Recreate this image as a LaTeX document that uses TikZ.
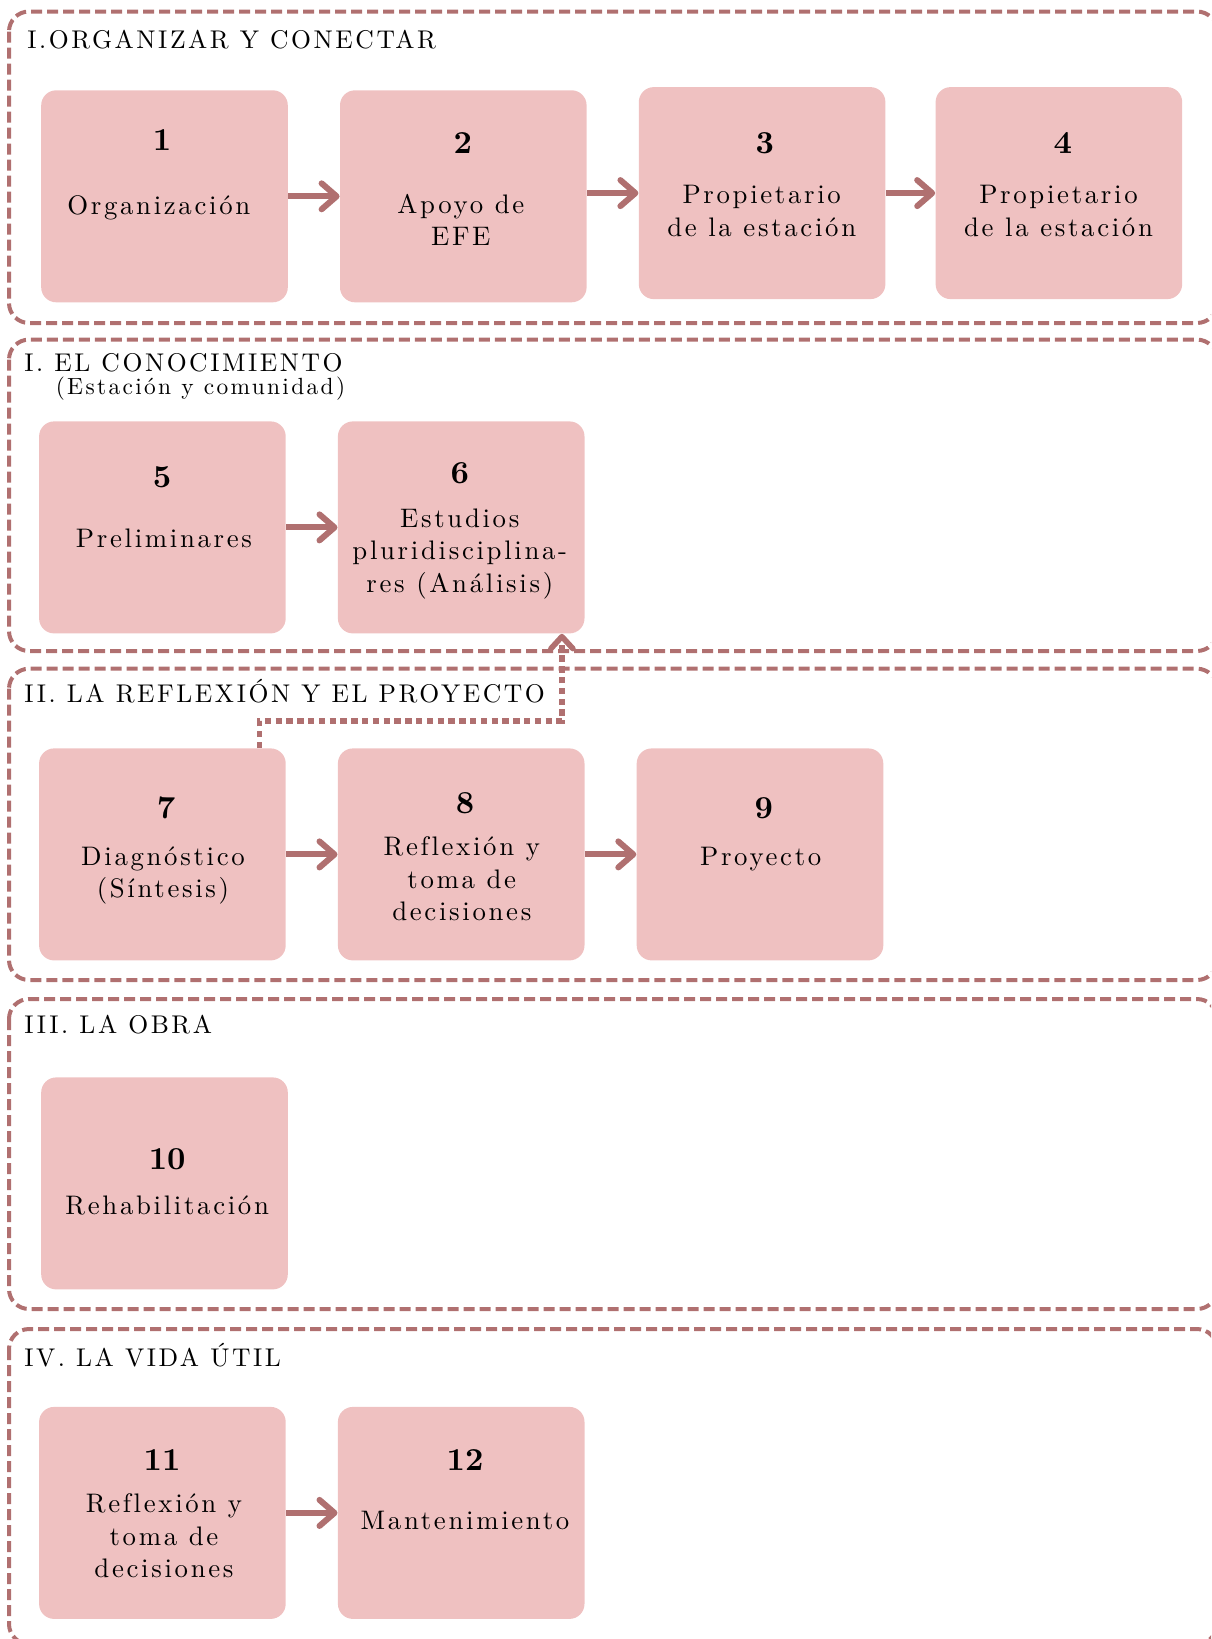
\documentclass[tikz,border=0pt]{standalone}
\usepackage{fontspec}
\usetikzlibrary{arrows.meta,calc}

% Latin Modern, loaded by file name; box and heading text is tracked out
\newfontfamily\spacedfont{lmroman10-regular.otf}[LetterSpace=10,Ligatures=NoCommon]
\newfontfamily\numfont{lmroman10-bold.otf}

\definecolor{boxfill}{RGB}{239,193,193}
\definecolor{rosy}{RGB}{176,112,112}

\tikzset{
  stage/.style={draw=rosy, line width=2pt, dash pattern=on 5.5pt off 2.5pt,
    rounded corners=10pt},
  stepbox/.style={fill=boxfill, rounded corners=7.5pt, inner sep=0pt,
    minimum width=123.3pt, minimum height=106pt, anchor=north west},
  stepnum/.style={font=\numfont\fontsize{16}{19}\selectfont, inner sep=0pt},
  steptext/.style={font=\spacedfont\fontsize{13.4}{16.2}\selectfont,
    align=center, inner sep=0pt},
  heading/.style={font=\spacedfont\fontsize{12.8}{15.5}\selectfont,
    anchor=west, inner sep=0pt},
  subheading/.style={font=\spacedfont\fontsize{11.7}{14}\selectfont,
    anchor=west, inner sep=0pt},
  flow/.style={draw=rosy, line width=3pt,
    -{Straight Barb[length=7.5pt,width=13pt,round]}},
  feedback/.style={draw=rosy, line width=2.8pt, dash pattern=on 3.2pt off 2.2pt,
    -{Straight Barb[length=6pt,width=11pt,round]}}
}

\begin{document}
\begin{tikzpicture}[x=0.5pt,y=-0.5pt]
  \useasboundingbox (0,0) rectangle (1211,1639);
  \clip (0,0) rectangle (1211,1639);

  % stage frames
  \draw[stage] (9,11.5) rectangle (1217,323);
  \draw[stage] (9,339.6) rectangle (1217,651);
  \draw[stage] (9,668.7) rectangle (1217,980);
  \draw[stage] (9,999) rectangle (1217,1309);
  \draw[stage] (9,1329) rectangle (1217,1644);

  % stage headings
  \node[heading] (h1) at (27,39.7) {I.ORGANIZAR Y CONECTAR};
  \node[heading] (h2) at (24,362.6) {I. EL CONOCIMIENTO};
  \node[subheading] (h2s) at (55.4,388.7) {(Estación y comunidad)};
  \node[heading] (h3) at (24,690.7) {II. LA REFLEXIÓN Y EL PROYECTO};
  \node[heading] (h4) at (24,1025) {III. LA OBRA};
  \node[heading] (h5) at (24,1355) {IV. LA VIDA ÚTIL};

  % step boxes
  \node[stepbox] (b1) at (40.8,89.9) {};
  \node[stepbox] (b2) at (339.6,89.9) {};
  \node[stepbox] (b3) at (638.4,86.7) {};
  \node[stepbox] (b4) at (935.2,86.7) {};
  \node[stepbox] (b5) at (38.7,421) {};
  \node[stepbox] (b6) at (337.5,421) {};
  \node[stepbox] (b7) at (38.7,748) {};
  \node[stepbox] (b8) at (337.5,748) {};
  \node[stepbox] (b9) at (636.3,748) {};
  \node[stepbox] (b10) at (40.8,1077) {};
  \node[stepbox] (b11) at (38.7,1406.5) {};
  \node[stepbox] (b12) at (337.5,1406.5) {};

  % numbers and captions
  \node[stepnum] (n1) at (162,140) {1};
  \node[steptext] (t1) at (158.8,207.5) {Organización};
  \node[stepnum] (n2) at (462.9,143.2) {2};
  \node[steptext] (t2) at (460.8,220) {Apoyo de\\EFE};
  \node[stepnum] (n3) at (764.9,143.2) {3};
  \node[steptext] (t3) at (761.7,211.1) {Propietario\\de la estación};
  \node[stepnum] (n4) at (1062.7,143.2) {4};
  \node[steptext] (t4) at (1058.5,211.1) {Propietario\\de la estación};
  \node[stepnum] (n5) at (162,477.5) {5};
  \node[steptext] (t5) at (164,538.1) {Preliminares};
  \node[stepnum] (n6) at (459.8,473.3) {6};
  \node[steptext] (t6) at (459.8,553.8) {Estudios\\pluridisciplina-\\res (Análisis)};
  \node[stepnum] (n7) at (166.1,807.7) {7};
  \node[steptext] (t7) at (163,875.6) {Diagnóstico\\(Síntesis)};
  \node[stepnum] (n8) at (465,803.5) {8};
  \node[steptext] (t8) at (461.8,878.8) {Reflexión y\\toma de\\decisiones};
  \node[stepnum] (n9) at (763.8,807.7) {9};
  \node[steptext] (t9) at (760.7,859.5) {Proyecto};
  \node[stepnum] (n10) at (167.2,1158.8) {10};
  \node[steptext] (t10) at (167.2,1205.8) {Rehabilitación};
  \node[stepnum] (n11) at (162,1459.7) {11};
  \node[steptext] (t11) at (164,1536) {Reflexión y\\toma de\\decisiones};
  \node[stepnum] (n12) at (465,1459.7) {12};
  \node[steptext] (t12) at (465,1520.3) {Mantenimiento};

  % forward arrows
  \draw[flow] (b1.east) -- (b2.west);
  \draw[flow] (b2.east |- b3.west) -- (b3.west);
  \draw[flow] (b3.east) -- (b4.west);
  \draw[flow] (b5.east) -- (b6.west);
  \draw[flow] (b7.east) -- (b8.west);
  \draw[flow] (b8.east) -- (b9.west);
  \draw[flow] (b11.east) -- (b12.west);

  % feedback from the diagnosis back to the studies
  \coordinate (fs) at ($(b7.north)+(97,0)$);
  \coordinate (ft) at ($(b6.south east)+(-23,0)$);
  \draw[feedback] (fs) -- (fs |- 0,721) -| (ft);
\end{tikzpicture}
\end{document}
